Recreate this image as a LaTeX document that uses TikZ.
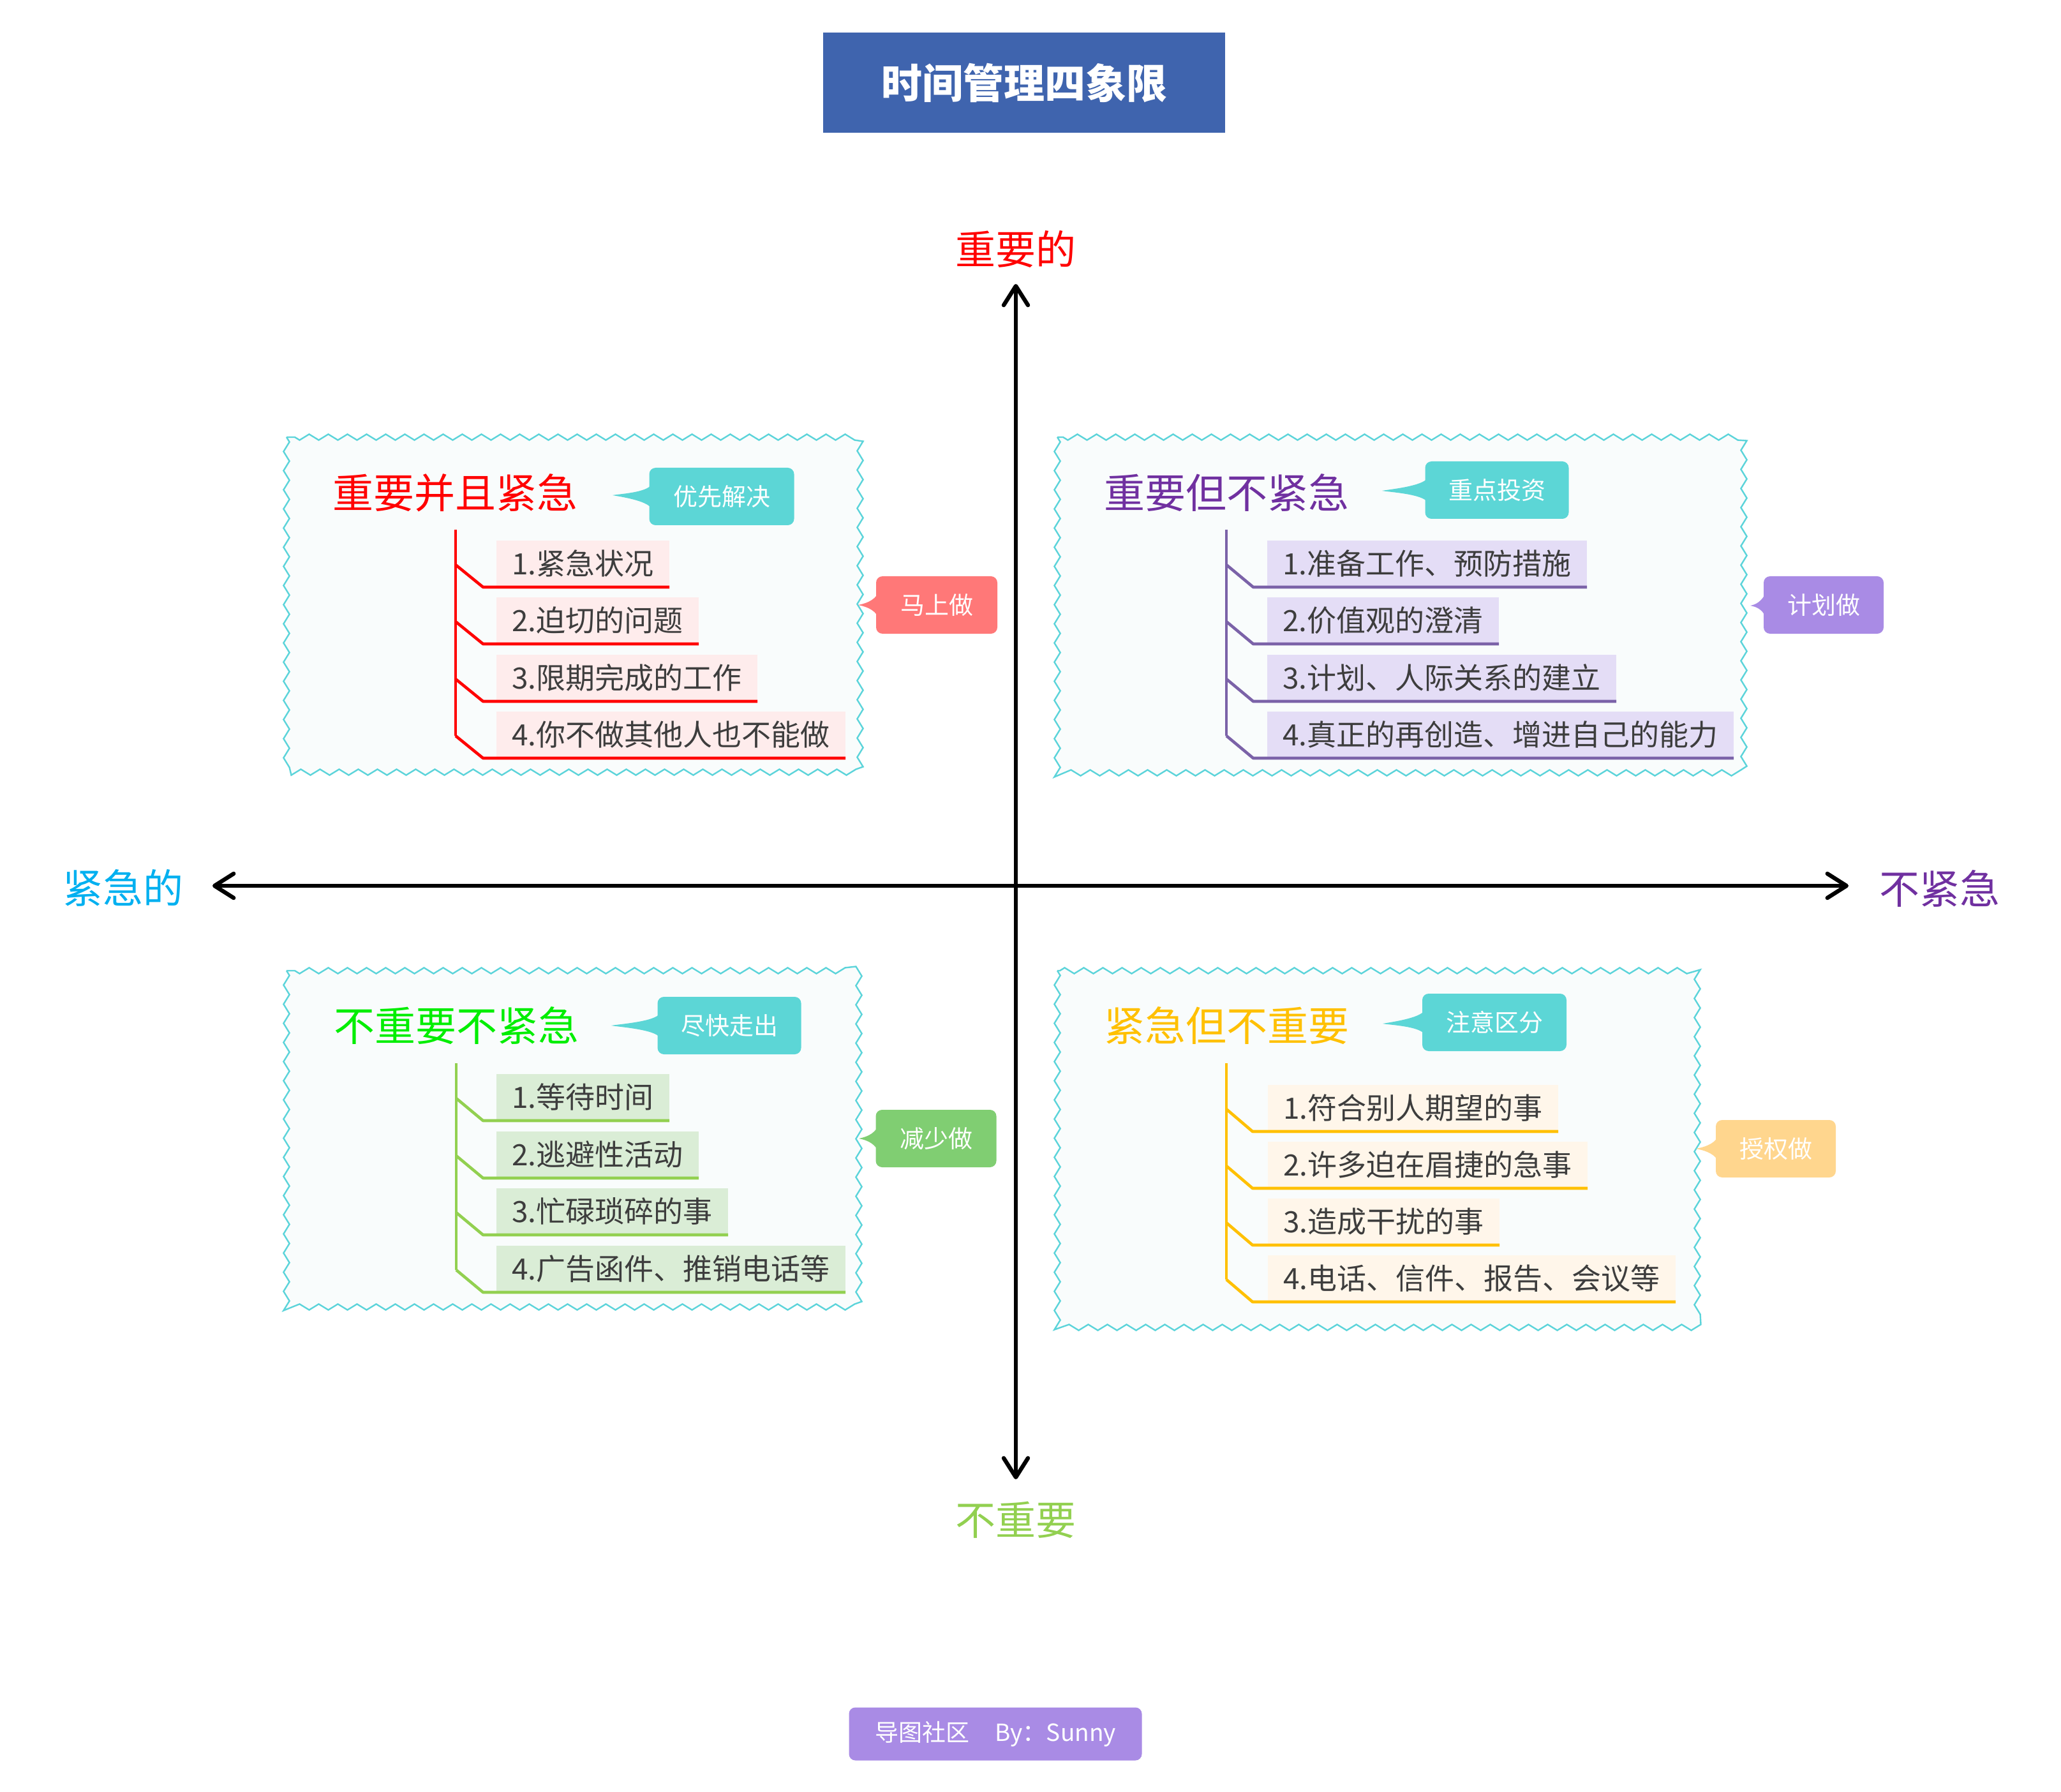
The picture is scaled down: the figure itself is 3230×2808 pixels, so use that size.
\documentclass[tikz,border=0pt]{standalone}
\usepackage{fontspec}
\setmainfont{Noto Sans CJK SC}
\usetikzlibrary{arrows.meta,decorations.pathmorphing,calc}

\definecolor{titleblue}{HTML}{3F64AE}
\definecolor{waveC}{HTML}{5CD4DA}
\definecolor{quadF}{HTML}{F9FCFC}
\definecolor{itemtext}{HTML}{3D3D3D}
\definecolor{tealC}{HTML}{5CD6D6}
\definecolor{salmonC}{HTML}{FF7878}
\definecolor{lavC}{HTML}{A98BE5}
\definecolor{leafC}{HTML}{80CE72}
\definecolor{peachC}{HTML}{FFD68E}
\definecolor{redL}{HTML}{FF0000}
\definecolor{redF}{HTML}{FEECEC}
\definecolor{purL}{HTML}{7B62A8}
\definecolor{purF}{HTML}{E4DDF6}
\definecolor{purT}{HTML}{7030A0}
\definecolor{grnL}{HTML}{92D050}
\definecolor{grnF}{HTML}{DAEDD6}
\definecolor{grnT}{HTML}{00EE00}
\definecolor{ylwL}{HTML}{FFC000}
\definecolor{ylwF}{HTML}{FFF6EA}
\definecolor{cyanT}{HTML}{00B0F0}

\newcommand{\calltail}[3]{%
  \fill[#1] ($(#2.west)+(4,-19)$) .. controls ($(#2.west)+(-3,-6)$) and ($(#3)+(10,-2)$) .. (#3)
    .. controls ($(#3)+(10,2)$) and ($(#2.west)+(-3,6)$) .. ($(#2.west)+(4,19)$) -- cycle;}

\begin{document}
\begin{tikzpicture}[x=0.5pt,y=-0.5pt,
  wavybox/.style={draw=waveC, fill=quadF, line width=1.2pt, decorate,
    decoration={zigzag, segment length=15pt, amplitude=2.3pt}},
  qtitle/.style={inner sep=0pt, font=\fontsize{32pt}{36pt}\selectfont},
  axlabel/.style={inner sep=0pt, font=\fontsize{31.5pt}{36pt}\selectfont},
  item/.style={anchor=south west, inner xsep=12pt, inner ysep=0pt, minimum height=36.5pt,
    text=itemtext, font=\fontsize{23pt}{26pt}\selectfont},
  callout/.style={rounded corners=5pt, inner sep=0pt, text=white, minimum height=45pt,
    font=\fontsize{19pt}{22pt}\selectfont},
  branch/.style={line width=2.3pt, line join=round},
  axis/.style={line width=3.2pt, {Straight Barb[round,length=15pt,width=19pt]}-{Straight Barb[round,length=15pt,width=19pt]}}
]
\useasboundingbox (0,0) rectangle (3230,2808);
\fill[white] (0,0) rectangle (3230,2808);

% title
\node[fill=titleblue, minimum width=315pt, minimum height=78.5pt, inner sep=0pt, text=white,
  font=\bfseries\fontsize{32pt}{36pt}\selectfont] (title) at (1605,130) {时间管理四象限};

% quadrant panels
\path[wavybox] (449,685) rectangle (1348,1210);
\path[wavybox] (1657,685) rectangle (2733,1211);
\path[wavybox] (449,1521) rectangle (1346,2048);
\path[wavybox] (1657,1521) rectangle (2660,2080);

% axes
\coordinate (N) at (1592,445);
\coordinate (S) at (1592,2318);
\coordinate (W) at (333,1388);
\coordinate (E) at (2897,1388);
\draw[axis] (S) -- (N);
\draw[axis] (W) -- (E);
\node[axlabel, text=redL] (lN) at (1592,390) {重要的};
\node[axlabel, text=cyanT] (lW) at (193,1391) {紧急的};
\node[axlabel, text=purT] (lE) at (3040,1392) {不紧急};
\node[axlabel, text=grnL] (lS) at (1592,2382) {不重要};

% ---------- Quadrant TL ----------
\node[qtitle, text=redL] (q1t) at (713,772) {重要并且紧急};
\node[callout, fill=tealC, minimum width=113.5pt] (q1c) at (1131,778) {优先解决};
\coordinate (q1cp) at (960,776);
\calltail{tealC}{q1c}{q1cp}
\node[callout, fill=salmonC, minimum width=95pt] (q1s) at (1468,948) {马上做};
\coordinate (q1sp) at (1345,948);
\calltail{salmonC}{q1s}{q1sp}
\coordinate (q1r) at (714,830);
\node[item, fill=redF] (q1a) at (778,920) {1.紧急状况};
\node[item, fill=redF] (q1b) at (778,1009) {2.迫切的问题};
\node[item, fill=redF] (q1cc) at (778,1099) {3.限期完成的工作};
\node[item, fill=redF] (q1d) at (778,1188) {4.你不做其他人也不能做};
\draw[branch, redL] (q1r) -- ($(q1r |- q1d.south)+(0,-35)$);
\foreach \n in {q1a,q1b,q1cc,q1d}
  \draw[branch, redL] ($(q1r |- \n.south)+(0,-35)$) -- ($(\n.south west)+(-21,0)$) -- (\n.south east);

% ---------- Quadrant TR ----------
\node[qtitle, text=purT] (q2t) at (1922,772) {重要但不紧急};
\node[callout, fill=tealC, minimum width=112.5pt] (q2c) at (2346,768) {重点投资};
\coordinate (q2cp) at (2166,769);
\calltail{tealC}{q2c}{q2cp}
\node[callout, fill=lavC, minimum width=94pt] (q2s) at (2858,948) {计划做};
\coordinate (q2sp) at (2743,949);
\calltail{lavC}{q2s}{q2sp}
\coordinate (q2r) at (1922,830);
\node[item, fill=purF] (q2a) at (1986,920) {1.准备工作、预防措施};
\node[item, fill=purF] (q2b) at (1986,1009) {2.价值观的澄清};
\node[item, fill=purF] (q2cc) at (1986,1099) {3.计划、人际关系的建立};
\node[item, fill=purF] (q2d) at (1986,1188) {4.真正的再创造、增进自己的能力};
\draw[branch, purL] (q2r) -- ($(q2r |- q2d.south)+(0,-35)$);
\foreach \n in {q2a,q2b,q2cc,q2d}
  \draw[branch, purL] ($(q2r |- \n.south)+(0,-35)$) -- ($(\n.south west)+(-22,0)$) -- (\n.south east);

% ---------- Quadrant BL ----------
\node[qtitle, text=grnT] (q3t) at (715,1607) {不重要不紧急};
\node[callout, fill=tealC, minimum width=112.5pt] (q3c) at (1143,1607) {尽快走出};
\coordinate (q3cp) at (958,1607);
\calltail{tealC}{q3c}{q3cp}
\node[callout, fill=leafC, minimum width=94.5pt] (q3s) at (1467,1784) {减少做};
\coordinate (q3sp) at (1346,1784);
\calltail{leafC}{q3s}{q3sp}
\coordinate (q3r) at (715,1666);
\node[item, fill=grnF] (q3a) at (778,1756) {1.等待时间};
\node[item, fill=grnF] (q3b) at (778,1846) {2.逃避性活动};
\node[item, fill=grnF] (q3cc) at (778,1935) {3.忙碌琐碎的事};
\node[item, fill=grnF] (q3d) at (778,2025) {4.广告函件、推销电话等};
\draw[branch, grnL] (q3r) -- ($(q3r |- q3d.south)+(0,-35)$);
\foreach \n in {q3a,q3b,q3cc,q3d}
  \draw[branch, grnL] ($(q3r |- \n.south)+(0,-35)$) -- ($(\n.south west)+(-21,0)$) -- (\n.south east);

% ---------- Quadrant BR ----------
\node[qtitle, text=ylwL] (q4t) at (1922,1607) {紧急但不重要};
\node[callout, fill=tealC, minimum width=113pt] (q4c) at (2342,1602) {注意区分};
\coordinate (q4cp) at (2167,1604);
\calltail{tealC}{q4c}{q4cp}
\node[callout, fill=peachC, minimum width=94pt] (q4s) at (2783,1800) {授权做};
\coordinate (q4sp) at (2658,1800);
\calltail{peachC}{q4s}{q4sp}
\coordinate (q4r) at (1922,1666);
\node[item, fill=ylwF] (q4a) at (1987,1773) {1.符合别人期望的事};
\node[item, fill=ylwF] (q4b) at (1987,1862) {2.许多迫在眉捷的急事};
\node[item, fill=ylwF] (q4cc) at (1987,1951) {3.造成干扰的事};
\node[item, fill=ylwF] (q4d) at (1987,2040) {4.电话、信件、报告、会议等};
\draw[branch, ylwL] (q4r) -- ($(q4r |- q4d.south)+(0,-35)$);
\foreach \n in {q4a,q4b,q4cc,q4d}
  \draw[branch, ylwL] ($(q4r |- \n.south)+(0,-35)$) -- ($(\n.south west)+(-24,0)$) -- (\n.south east);

% footer
\node[fill=lavC, rounded corners=5pt, minimum width=229.5pt, minimum height=41.5pt, inner sep=0pt,
  text=white, font=\fontsize{18.5pt}{22pt}\selectfont] (foot) at (1560,2717) {导图社区\hspace{1.1em}By：Sunny};
\end{tikzpicture}
\end{document}
